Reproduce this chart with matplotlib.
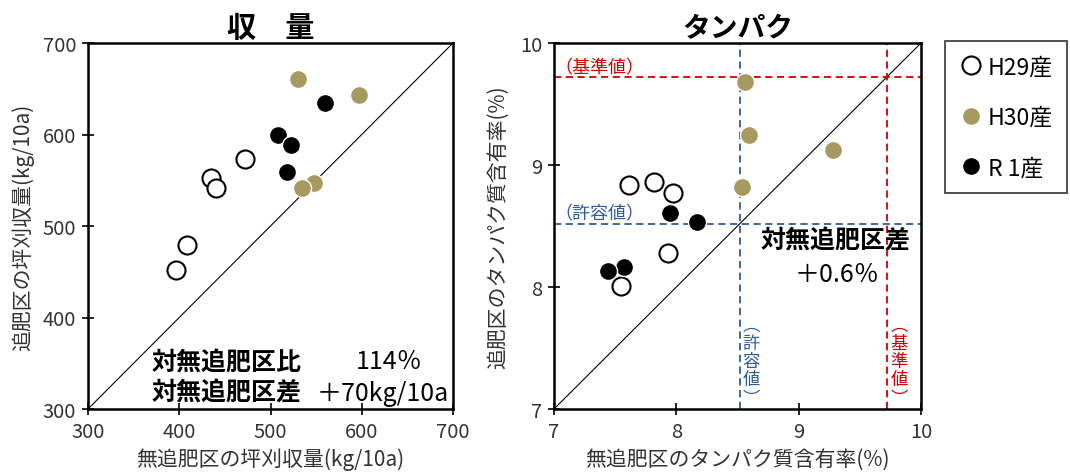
import matplotlib
matplotlib.use("Agg")
import matplotlib.pyplot as plt
from matplotlib.lines import Line2D

plt.rcParams['font.family'] = ['Noto Sans CJK JP', 'DejaVu Sans']

# ---- data -------------------------------------------------------------
years = ["H29産", "H30産", "R 1産"]

# yield (kg/10a): no top-dressing (x) vs top-dressing (y)
yield_h29_x = [396, 409, 435, 440, 472]
yield_h29_y = [452, 479, 553, 541, 573]
yield_h30_x = [530, 597, 548, 534]
yield_h30_y = [661, 643, 547, 541]
yield_r1_x = [560, 508, 522, 518]
yield_r1_y = [634, 599, 588, 559]

# protein content (%): no top-dressing (x) vs top-dressing (y)
prot_h29_x = [7.61, 7.82, 7.97, 7.93, 7.55]
prot_h29_y = [8.84, 8.86, 8.77, 8.28, 8.01]
prot_h30_x = [8.56, 8.59, 9.28, 8.54]
prot_h30_y = [9.68, 9.25, 9.12, 8.82]
prot_r1_x = [7.95, 8.17, 7.57, 7.44]
prot_r1_y = [8.61, 8.53, 8.16, 8.13]

prot_allowable = 8.52
prot_standard = 9.72

yield_ticks = [300, 400, 500, 600, 700]
prot_ticks = [7, 8, 9, 10]

# ---- styles -----------------------------------------------------------
tan = '#A69A60'
red = '#D00000'
blue = '#2E5C9A'
ms = 13
styles = [
    dict(marker='o', ms=ms, mfc='white', mec='black', mew=1.5, ls='none'),
    dict(marker='o', ms=ms, mfc=tan, mec='white', mew=1.0, ls='none'),
    dict(marker='o', ms=ms, mfc='black', mec='white', mew=1.0, ls='none'),
]

fig = plt.figure(figsize=(10.70, 4.77), dpi=100)
ax1 = fig.add_axes([88 / 1070, 67 / 477, 365 / 1070, 366 / 477])
ax2 = fig.add_axes([554 / 1070, 67 / 477, 367 / 1070, 366 / 477])


def style_axes(ax, ticks):
    ax.set_xlim(ticks[0], ticks[-1])
    ax.set_ylim(ticks[0], ticks[-1])
    ax.set_xticks(ticks)
    ax.set_yticks(ticks)
    ax.tick_params(direction='inout', length=9, width=1.2, labelsize=14.5,
                   labelcolor='#333333', pad=4)
    for s in ax.spines.values():
        s.set_linewidth(1.8)
    ax.plot([ticks[0], ticks[-1]], [ticks[0], ticks[-1]], color='black', lw=0.8, zorder=1)


def vertical_text(ax, x, y, label, **kw):
    """Write a label top-to-bottom with upright characters (tategaki)."""
    glyphs = label.replace("（", "︵").replace("）", "︶")
    ax.text(x, y, "\n".join(glyphs), ha='center', va='bottom',
            linespacing=1.02, **kw)


# ---- yield panel ------------------------------------------------------
style_axes(ax1, yield_ticks)
for xs, ys, st in zip([yield_h29_x, yield_h30_x, yield_r1_x],
                      [yield_h29_y, yield_h30_y, yield_r1_y], styles):
    ax1.plot(xs, ys, zorder=3, **st)
ax1.set_title("収\u3000量", fontsize=21, fontweight='bold', pad=5)
ax1.set_xlabel("無追肥区の坪刈収量(kg/10a)", fontsize=15, color='#333333', labelpad=4)
ax1.set_ylabel("追肥区の坪刈収量(kg/10a)", fontsize=15, color='#333333', labelpad=6)

ax1.text(370, 352, "対無追肥区比", fontsize=18, fontweight='bold', ha='left', va='center')
ax1.text(666, 352, "114％", fontsize=18, ha='right', va='center')
ax1.text(370, 318, "対無追肥区差", fontsize=18, fontweight='bold', ha='left', va='center')
ax1.text(696, 318, "＋70kg/10a", fontsize=18, ha='right', va='center')

# ---- protein panel ----------------------------------------------------
style_axes(ax2, prot_ticks)
dash = (0, (4, 2.5))
ax2.axhline(prot_standard, color=red, lw=1.3, ls=dash, zorder=2)
ax2.axvline(prot_standard, color=red, lw=1.3, ls=dash, zorder=2)
ax2.axhline(prot_allowable, color=blue, lw=1.3, ls=dash, zorder=2)
ax2.axvline(prot_allowable, color=blue, lw=1.3, ls=dash, zorder=2)
for xs, ys, st in zip([prot_h29_x, prot_h30_x, prot_r1_x],
                      [prot_h29_y, prot_h30_y, prot_r1_y], styles):
    ax2.plot(xs, ys, zorder=3, **st)
ax2.set_title("タンパク", fontsize=20, fontweight='bold', pad=5)
ax2.set_xlabel("無追肥区のタンパク質含有率(%)", fontsize=15, color='#333333', labelpad=4)
ax2.set_ylabel("追肥区のタンパク質含有率(%)", fontsize=15, color='#333333', labelpad=8)

ax2.text(7.0, prot_standard + 0.01, "（基準値）", color=red, fontsize=13, ha='left', va='bottom')
ax2.text(7.0, prot_allowable + 0.01, "（許容値）", color=blue, fontsize=13, ha='left', va='bottom')
vertical_text(ax2, prot_allowable + 0.09, 7.02, "（許容値）", color=blue, fontsize=12.5)
vertical_text(ax2, prot_standard + 0.10, 7.02, "（基準値）", color=red, fontsize=12.5)

ax2.text(9.30, 8.38, "対無追肥区差", fontsize=18, fontweight='bold', ha='center', va='center')
ax2.text(9.31, 8.11, "＋0.6％", fontsize=18, ha='center', va='center')

# ---- legend -----------------------------------------------------------
handles = [Line2D([], [], **st) for st in styles]
leg = fig.legend(handles, years, loc='upper left', bbox_to_anchor=(945 / 1070, 1 - 42 / 477),
                 fontsize=16.5, frameon=True, fancybox=False, edgecolor='black',
                 labelspacing=1.2, handletextpad=0.25, handlelength=1.0,
                 borderpad=0.62, borderaxespad=0)
leg.get_frame().set_linewidth(1.2)

fig.savefig("out.png", dpi=100)
